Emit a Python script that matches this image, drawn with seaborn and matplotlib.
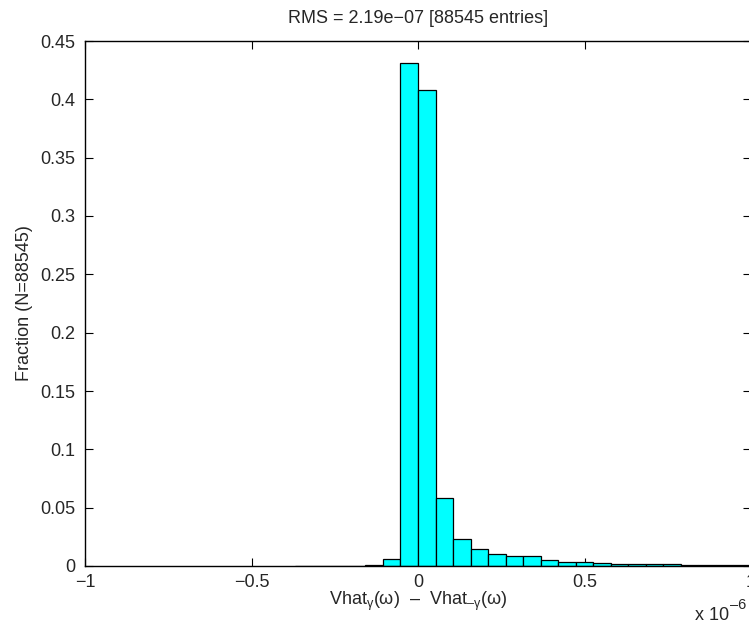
import matplotlib
matplotlib.use("Agg")
import matplotlib.pyplot as plt
import numpy as np
import pandas as pd
import seaborn as sns

# histogram, x in units of 1e-6, bins of width 1/19
bin_start = -7
bin_stop = 20
fractions = [
    0.0001, 0.0001, 0.0002, 0.0003, 0.0012, 0.0058, 0.4310, 0.4077,
    0.0580, 0.0235, 0.0144, 0.0102, 0.0088, 0.0083, 0.0052, 0.0038,
    0.0034, 0.0026, 0.0021, 0.0019, 0.0015, 0.0014, 0.0012, 0.0010,
    0.0009, 0.0008, 0.0007,
]
n_entries = 88545
rms = 2.19e-07

edges = np.arange(bin_start, bin_stop + 1) / 19.0
df = pd.DataFrame({
    "center": (edges[:-1] + edges[1:]) / 2,
    "fraction": fractions,
})

sns.set_style("ticks")
plt.rcParams["font.family"] = ["Liberation Sans", "DejaVu Sans"]
plt.rcParams["mathtext.fontset"] = "custom"
plt.rcParams["mathtext.rm"] = "Liberation Sans"
plt.rcParams["mathtext.it"] = "Liberation Sans:italic"

fig = plt.figure(figsize=(7.49, 6.26), dpi=100)
ax = fig.add_axes([85 / 749, 60 / 626, 666 / 749, 525 / 626])

sns.histplot(data=df, x="center", weights="fraction",
             binwidth=1 / 19, binrange=(edges[0], edges[-1]),
             color="#00ffff", edgecolor="black", linewidth=0.9, alpha=1.0, ax=ax)

ax.set_xlim(-1, 1)
ax.set_ylim(0, 0.45)
ax.set_xticks([-1, -0.5, 0, 0.5, 1])
ax.set_xticklabels(["\u22121", "\u22120.5", "0", "0.5", "1"])
yt = np.round(np.arange(0, 0.4501, 0.05), 2)
ax.set_yticks(yt)
ax.set_yticklabels(["%g" % v for v in yt])
ax.tick_params(direction="in", length=6, width=0.8, labelsize=13,
               top=True, right=True, color="black")
ax.tick_params(axis="x", pad=6)
ax.tick_params(axis="y", pad=7)
for s in ax.spines.values():
    s.set_linewidth(1.0)
    s.set_color("black")
    s.set_visible(True)

ax.set_title(f"RMS = {rms:.2e}".replace("-", "\u2212") + f" [{n_entries} entries]",
             fontsize=13, pad=13)
ax.set_ylabel(f"Fraction (N={n_entries})", fontsize=13, labelpad=5)
ax.set_xlabel("Vhat$_{\\mathrm{\u03b3}}$(\u03c9)  \u2013  Vhat$_{\\mathrm{\u2013\u03b3}}$(\u03c9)",
              fontsize=13, labelpad=-1)
# MATLAB-style exponent label in the lower right corner
fig.text(695 / 749, 1 - 620 / 626, "x 10", fontsize=13, va="baseline")
fig.text(730 / 749, 1 - 609 / 626, "\u20136", fontsize=10.5, va="baseline")

fig.savefig("out.png", dpi=100)
